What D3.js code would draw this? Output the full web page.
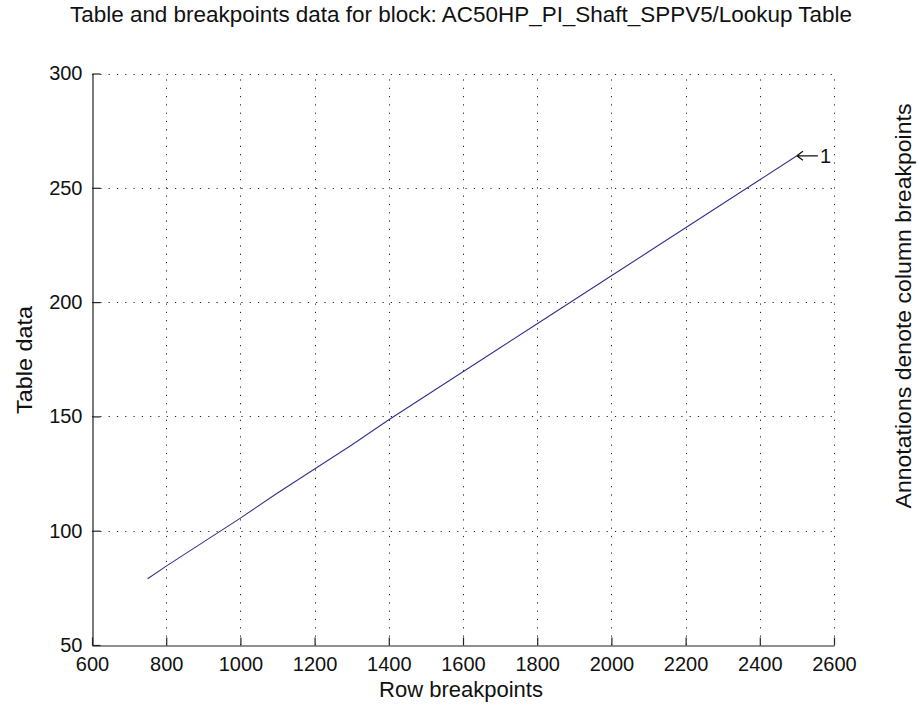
<!DOCTYPE html>
<html>
<head>
<meta charset="utf-8">
<script src="https://cdn.jsdelivr.net/npm/d3@7"></script>
<style>
  html, body { margin: 0; padding: 0; background: #fff; }
  svg { display: block; }
  text { font-family: "Liberation Sans", Arial, sans-serif; fill: #111; }
</style>
</head>
<body>
<svg id="chart" width="920" height="706"></svg>
<script>
// Lookup table: row breakpoints and table output
const rowBreakpoints = [750, 800, 900, 1000, 1100, 1200, 1300, 1400, 1500, 1600,
                        1700, 1800, 1900, 2000, 2100, 2200, 2300, 2400, 2500];
const tableData = [79, 84.5, 95, 105.5, 116.5, 127, 137.5, 148.5, 159, 169.5,
                   180, 190.5, 201, 211.5, 222, 232.5, 243, 253.5, 264];
const columnBreakpointLabel = ["1"];
const xTicks = [600, 800, 1000, 1200, 1400, 1600, 1800, 2000, 2200, 2400, 2600];
const yTicks = [50, 100, 150, 200, 250, 300];

const titleText = "Table and breakpoints data for block: AC50HP_PI_Shaft_SPPV5/Lookup Table";
const xLabel = "Row breakpoints";
const yLabel = "Table data";
const rightLabel = "Annotations denote column breakpoints";

const svg = d3.select("#chart");
const plot = { left: 92, right: 834, top: 73.5, bottom: 645 };

const x = d3.scaleLinear().domain([600, 2600]).range([plot.left, plot.right]);
const y = d3.scaleLinear().domain([50, 300]).range([plot.bottom, plot.top]);

const tickFont = 20;
const labelFont = 22;
const ink = "#222";

// dotted grid
const grid = svg.append("g").attr("stroke", ink).attr("stroke-width", 1)
  .attr("stroke-dasharray", "1.2,7.1").attr("fill", "none");
grid.selectAll("line.vx").data(xTicks.filter(d => d > 600)).join("line")
  .attr("x1", d => Math.round(x(d)) + 0.5).attr("x2", d => Math.round(x(d)) + 0.5)
  .attr("y1", plot.bottom).attr("y2", plot.top);
grid.selectAll("line.hy").data(yTicks.filter(d => d > 50)).join("line")
  .attr("y1", d => Math.round(y(d)) + 0.5).attr("y2", d => Math.round(y(d)) + 0.5)
  .attr("x1", plot.left).attr("x2", plot.right);

// axes with inward ticks
const xAxis = d3.axisBottom(x).tickValues(xTicks).tickSizeInner(-8).tickSizeOuter(0)
  .tickPadding(11).tickFormat(d3.format("d"));
const gx = svg.append("g").attr("transform", `translate(0,${Math.round(plot.bottom) + 0.5})`).call(xAxis);
const yAxis = d3.axisLeft(y).tickValues(yTicks).tickSizeInner(-8).tickSizeOuter(0)
  .tickPadding(10).tickFormat(d3.format("d"));
const gy = svg.append("g").attr("transform", `translate(${Math.round(plot.left) + 0.5},0)`).call(yAxis);

[gx, gy].forEach(g => {
  g.select(".domain").attr("stroke", ink).attr("stroke-width", 1.2);
  g.selectAll(".tick line").attr("stroke", ink).attr("stroke-width", 1.2);
  g.selectAll(".tick text").attr("font-size", tickFont)
    .attr("font-family", "Liberation Sans, Arial, sans-serif").attr("fill", "#111");
});

// data line
const line = d3.line().x((d, i) => x(rowBreakpoints[i])).y(d => y(d));
svg.append("path").datum(tableData)
  .attr("d", line).attr("fill", "none")
  .attr("stroke", "#33338f").attr("stroke-width", 1.1);

// column breakpoint annotation at the last point: left arrow + label
const lastI = rowBreakpoints.length - 1;
const ax = x(rowBreakpoints[lastI]), ay = y(tableData[lastI]);
const ann = svg.append("g").attr("transform", `translate(${ax},${ay})`);
ann.append("path")
  .attr("d", "M0,0 H21 M0,0 L6,-4.5 M0,0 L6,4.5")
  .attr("fill", "none").attr("stroke", "#111").attr("stroke-width", 1.3);
ann.append("text").attr("x", 23).attr("dy", "0.36em")
  .attr("font-size", tickFont).text(columnBreakpointLabel[0]);

// titles and labels
svg.append("text").attr("x", 461).attr("y", 22).attr("text-anchor", "middle")
  .attr("font-size", labelFont).attr("textLength", 782).attr("lengthAdjust", "spacingAndGlyphs")
  .text(titleText);
svg.append("text").attr("x", 461).attr("y", 697).attr("text-anchor", "middle")
  .attr("font-size", labelFont).attr("textLength", 164).attr("lengthAdjust", "spacingAndGlyphs")
  .text(xLabel);
svg.append("text").attr("transform", "translate(32,360) rotate(-90)")
  .attr("text-anchor", "middle").attr("font-size", labelFont)
  .attr("textLength", 108).attr("lengthAdjust", "spacingAndGlyphs").text(yLabel);
svg.append("text").attr("transform", "translate(911,306) rotate(-90)")
  .attr("text-anchor", "middle").attr("font-size", labelFont)
  .attr("textLength", 405).attr("lengthAdjust", "spacingAndGlyphs").text(rightLabel);
</script>
</body>
</html>
